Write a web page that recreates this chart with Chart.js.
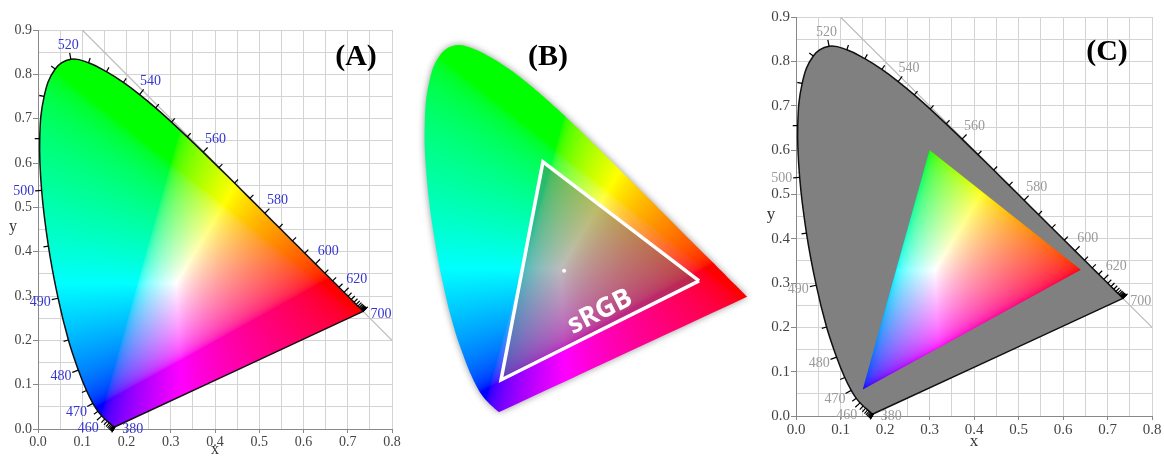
<!DOCTYPE html>
<html><head><meta charset="utf-8">
<script src="https://cdn.jsdelivr.net/npm/chart.js@4"></script>
<style>
html,body{margin:0;padding:0;background:#fff;}
body{width:1164px;height:459px;position:relative;overflow:hidden;}
canvas{position:absolute;left:0;top:0;}
</style></head>
<body>
<canvas id="cA" width="1164" height="459"></canvas>
<canvas id="cB" width="1164" height="459"></canvas>
<canvas id="cC" width="1164" height="459"></canvas>
<script>
// ---- DATA (CIE 1931 spectral locus) ----
const wavelengths = [380,385,390,395,400,405,410,415,420,425,430,435,440,445,450,455,460,465,470,475,480,485,490,495,500,505,510,515,520,525,530,535,540,545,550,555,560,565,570,575,580,585,590,595,600,605,610,615,620,625,630,635,640,645,650,655,660,665,670,675,680,685,690,695,700];
const locusX = [0.1741,0.1740,0.1738,0.1736,0.1733,0.1730,0.1726,0.1721,0.1714,0.1703,0.1689,0.1669,0.1644,0.1611,0.1566,0.1510,0.1440,0.1355,0.1241,0.1096,0.0913,0.0687,0.0454,0.0235,0.0082,0.0039,0.0139,0.0389,0.0743,0.1142,0.1547,0.1929,0.2296,0.2658,0.3016,0.3373,0.3731,0.4087,0.4441,0.4788,0.5125,0.5448,0.5752,0.6029,0.6270,0.6482,0.6658,0.6801,0.6915,0.7006,0.7079,0.7140,0.7190,0.7230,0.7260,0.7283,0.7300,0.7311,0.7320,0.7327,0.7334,0.7340,0.7344,0.7346,0.7347];
const locusY = [0.0050,0.0050,0.0049,0.0049,0.0048,0.0048,0.0048,0.0048,0.0051,0.0058,0.0069,0.0086,0.0109,0.0138,0.0177,0.0227,0.0297,0.0399,0.0578,0.0868,0.1327,0.2007,0.2950,0.4127,0.5384,0.6548,0.7502,0.8120,0.8338,0.8262,0.8059,0.7816,0.7543,0.7243,0.6923,0.6589,0.6245,0.5896,0.5547,0.5202,0.4866,0.4544,0.4242,0.3965,0.3725,0.3514,0.3340,0.3197,0.3083,0.2993,0.2920,0.2859,0.2809,0.2770,0.2740,0.2717,0.2700,0.2689,0.2680,0.2673,0.2666,0.2660,0.2656,0.2654,0.2653];
const labelWavelengths = [380,460,470,480,490,500,520,540,560,580,600,620,700];
const diagX = [0.1, 0.8];
const diagY = [0.9, 0.2];
const srgbX = [0.64, 0.30, 0.15];
const srgbY = [0.33, 0.60, 0.06];
const bTriX = [0.626, 0.272, 0.177];
const bTriY = [0.301, 0.570, 0.077];
const bWhiteX = [0.320];
const bWhiteY = [0.324];
const panelLetters = ['(A)', '(B)', '(C)'];

// ---- helpers ----
const locusPts = wavelengths.map((w,i)=>({x:locusX[i], y:locusY[i]}));
const locusClosed = locusPts.concat([locusPts[0]]);
const diagPts = diagX.map((x,i)=>({x, y:diagY[i]}));
const bTriPts = bTriX.map((x,i)=>({x, y:bTriY[i]})); bTriPts.push(bTriPts[0]);
const bWhitePts = bWhiteX.map((x,i)=>({x, y:bWhiteY[i]}));
const TENSION = 0.4;

function gam(c){ return c<=0.0031308 ? 12.92*c : 1.055*Math.pow(c,1/2.4)-0.055; }
function chroma(x,y){
  const yy = Math.max(y,1e-4);
  const X = x/yy, Z = (1-x-yy)/yy;
  let r = 3.2406*X - 1.5372 - 0.4986*Z;
  let g = -0.9689*X + 1.8758 + 0.0415*Z;
  let b = 0.0557*X - 0.2040 + 1.0570*Z;
  r=Math.max(r,0); g=Math.max(g,0); b=Math.max(b,0);
  const m = Math.max(r,g,b) || 1;
  return [255*gam(r/m), 255*gam(g/m), 255*gam(b/m)];
}
function makeField(chart){
  const ca = chart.chartArea, xs = chart.scales.x, ys = chart.scales.y;
  const L = Math.floor(ca.left), T = Math.floor(ca.top);
  const w = Math.ceil(ca.right)-L, h = Math.ceil(ca.bottom)-T;
  const c = document.createElement('canvas'); c.width=w; c.height=h;
  const g = c.getContext('2d'); const img = g.createImageData(w,h); const d = img.data;
  for(let j=0;j<h;j++){
    const y = ys.getValueForPixel(T+j+0.5);
    for(let i=0;i<w;i++){
      const x = xs.getValueForPixel(L+i+0.5);
      const col = chroma(x,y); const k=(j*w+i)*4;
      d[k]=col[0]; d[k+1]=col[1]; d[k+2]=col[2]; d[k+3]=255;
    }
  }
  g.putImageData(img,0,0);
  return {c, L, T};
}
function polyPath(ctx, chart, xs_, ys_){
  const xs = chart.scales.x, ys = chart.scales.y;
  ctx.beginPath();
  xs_.forEach((x,i)=>{ const px=xs.getPixelForValue(x), py=ys.getPixelForValue(ys_[i]); i?ctx.lineTo(px,py):ctx.moveTo(px,py); });
  ctx.closePath();
}
// smooth locus path taken from the library's own line element
function locusPath(ctx, chart, dsIndex){
  const el = chart.getDatasetMeta(dsIndex).dataset;
  if (el.updateControlPoints) el.updateControlPoints(chart.chartArea, 'x');
  ctx.beginPath(); el.path(ctx); ctx.closePath();
}
function drawLocusTicks(chart, labelColor){
  const ctx = chart.ctx, xs = chart.scales.x, ys = chart.scales.y;
  const p = wavelengths.map((w,i)=>[xs.getPixelForValue(locusX[i]), ys.getPixelForValue(locusY[i])]);
  const wp = [xs.getPixelForValue(0.33), ys.getPixelForValue(0.33)];
  const n = p.length;
  ctx.save();
  ctx.strokeStyle = '#000'; ctx.lineWidth = 1.2;
  ctx.font = '14px "Liberation Serif", "Times New Roman", serif';
  ctx.textAlign='center'; ctx.textBaseline='middle';
  for(let i=0;i<n;i++){
    let a=i, b=i;
    while(Math.hypot(p[b][0]-p[a][0], p[b][1]-p[a][1])<4 && (a>0 || b<n-1)){ if(a>0)a--; if(b<n-1)b++; }
    let tx=p[b][0]-p[a][0], ty=p[b][1]-p[a][1]; const tl=Math.hypot(tx,ty)||1; tx/=tl; ty/=tl;
    let nx=ty, ny=-tx;
    const ox=p[i][0]-wp[0], oy=p[i][1]-wp[1];
    if(nx*ox+ny*oy<0){ nx=-nx; ny=-ny; }
    const isLab = labelWavelengths.includes(wavelengths[i]);
    const len = isLab ? 6.5 : 5;
    ctx.beginPath(); ctx.moveTo(p[i][0],p[i][1]); ctx.lineTo(p[i][0]+nx*len, p[i][1]+ny*len); ctx.stroke();
    if(isLab){
      let dx=nx, dy=ny;
      if(wavelengths[i]===380){ dx=0.99; dy=0.12; }
      if(wavelengths[i]===700){ const l=Math.hypot(ox,oy); dx=ox/l; dy=oy/l; }
      const txt = String(wavelengths[i]);
      const hw = ctx.measureText(txt).width/2, hh=5;
      const off = 7 + hw*Math.abs(dx) + hh*Math.abs(dy);
      ctx.fillStyle = labelColor;
      ctx.fillText(txt, p[i][0]+dx*off, p[i][1]+dy*off);
    }
  }
  ctx.restore();
}
function drawLetter(chart, txt, cx, cy){
  const ctx = chart.ctx;
  ctx.save(); ctx.fillStyle='#000'; ctx.font='bold 30px "Liberation Serif", "Times New Roman", serif';
  ctx.textAlign='center'; ctx.textBaseline='middle'; ctx.fillText(txt, cx, cy); ctx.restore();
}
function drawYTitle(chart, size){
  const ctx = chart.ctx, ca = chart.chartArea, ys = chart.scales.y;
  ctx.save(); ctx.fillStyle='#333'; ctx.font=size+'px "Liberation Serif", "Times New Roman", serif';
  ctx.textAlign='center'; ctx.textBaseline='middle';
  ctx.fillText('y', ca.left-25, ys.getPixelForValue(0.455)); ctx.restore();
}
const isMajor = v => Math.abs(v*10 - Math.round(v*10)) < 1e-6;
function axisScales(xh, yw, fs, titlePad){
  const font = {family:'"Liberation Serif", "Times New Roman", serif', size:fs};
  return {
    x:{type:'linear', min:0, max:0.8,
       ticks:{stepSize:0.05, autoSkip:false, maxRotation:0, padding:1, color:'#444', font,
              callback:v=> isMajor(v) ? v.toFixed(1) : ''},
       grid:{color:'#d3d3d3', lineWidth:1, tickLength:4, tickColor:c=> isMajor(c.tick.value)?'#888':'rgba(0,0,0,0)'},
       border:{color:'#888', width:1},
       title:{display:true, text:'x', color:'#333', font:{family:font.family, size:fs+2}, padding:{top:0,bottom:titlePad}},
       afterFit:s=>{ s.height = xh; }},
    y:{type:'linear', min:0, max:0.9,
       ticks:{stepSize:0.05, autoSkip:false, padding:1, color:'#444', font,
              callback:v=> isMajor(v) ? v.toFixed(1) : ''},
       grid:{color:'#d3d3d3', lineWidth:1, tickLength:5, tickColor:c=> isMajor(c.tick.value)?'#888':'rgba(0,0,0,0)'},
       border:{color:'#888', width:1},
       afterFit:s=>{ s.width = yw; }}
  };
}
const common = {responsive:false, animation:false, events:[], plugins:{legend:{display:false}, tooltip:{enabled:false}}};

// ---- Panel A ----
new Chart(document.getElementById('cA'), {
  type:'scatter',
  data:{datasets:[
    {data:locusClosed, showLine:true, borderColor:'#111', borderWidth:1.5, pointRadius:0, fill:false, tension:TENSION},
    {data:diagPts, showLine:true, borderColor:'#bcbcbc', borderWidth:1.2, pointRadius:0, fill:false}
  ]},
  options:Object.assign({}, common, {
    layout:{padding:{left:0, right:772, top:30, bottom:0}},
    scales: axisScales(30, 38, 14, 0)
  }),
  plugins:[{
    id:'cieA',
    beforeDatasetsDraw(chart){
      const ctx=chart.ctx, f=makeField(chart);
      ctx.save(); locusPath(ctx, chart, 0); ctx.clip(); ctx.drawImage(f.c, f.L, f.T); ctx.restore();
    },
    afterDatasetsDraw(chart){ drawLocusTicks(chart, '#3535cf'); },
    afterDraw(chart){ drawLetter(chart, panelLetters[0], 356, 57); drawYTitle(chart, 16); }
  }]
});

// ---- Panel B ----
new Chart(document.getElementById('cB'), {
  type:'scatter',
  data:{datasets:[
    {data:bWhitePts, pointRadius:2, pointBackgroundColor:'#fff', pointBorderWidth:0},
    {data:bTriPts, showLine:true, borderColor:'#ffffff', borderWidth:3.5, borderJoinStyle:'miter', pointRadius:0, fill:false},
    {data:locusClosed, showLine:true, borderColor:'rgba(0,0,0,0)', borderWidth:0, pointRadius:0, fill:false, tension:TENSION}
  ]},
  options:Object.assign({}, common, {
    layout:{padding:{left:423, right:397, top:16, bottom:45}},
    scales:{x:{type:'linear', min:0, max:0.78, display:false}, y:{type:'linear', min:0, max:0.9, display:false}}
  }),
  plugins:[{
    id:'cieB',
    beforeDatasetsDraw(chart){
      const ctx=chart.ctx, f=makeField(chart);
      const layer=document.createElement('canvas'); layer.width=chart.width; layer.height=chart.height;
      const l=layer.getContext('2d');
      l.save(); locusPath(l, chart, 2); l.clip(); l.drawImage(f.c, f.L, f.T);
      polyPath(l, chart, bTriX, bTriY); l.fillStyle='rgba(95,95,95,0.42)'; l.fill();
      l.restore();
      ctx.save(); ctx.shadowColor='rgba(0,0,0,0.42)'; ctx.shadowBlur=7; ctx.drawImage(layer,0,0); ctx.restore();
    },
    afterDatasetsDraw(chart){
      const ctx=chart.ctx, xs=chart.scales.x, ys=chart.scales.y;
      const ax=xs.getPixelForValue(bTriX[2]), ay=ys.getPixelForValue(bTriY[2]);
      const bx=xs.getPixelForValue(bTriX[0]), by=ys.getPixelForValue(bTriY[0]);
      const L=Math.hypot(bx-ax,by-ay), ux=(bx-ax)/L, uy=(by-ay)/L;
      const t=0.537*L, off=16.5;
      const cx=ax+ux*t+uy*off, cy=ay+uy*t-ux*off;
      ctx.save(); ctx.translate(cx,cy); ctx.rotate(Math.atan2(uy,ux));
      ctx.fillStyle='#fff'; ctx.font='bold 27px "Open Sans", "DejaVu Sans", sans-serif';
      ctx.textAlign='center'; ctx.textBaseline='middle'; ctx.fillText('sRGB',0,0); ctx.restore();
    },
    afterDraw(chart){ drawLetter(chart, panelLetters[1], 548, 57); }
  }]
});

// ---- Panel C ----
new Chart(document.getElementById('cC'), {
  type:'scatter',
  data:{datasets:[
    {data:locusClosed, showLine:true, borderColor:'#111', borderWidth:1.5, pointRadius:0, fill:'shape', backgroundColor:'#808080', tension:TENSION},
    {data:diagPts, showLine:true, borderColor:'#bcbcbc', borderWidth:1.2, pointRadius:0, fill:false}
  ]},
  options:Object.assign({}, common, {
    layout:{padding:{left:758, right:12, top:17, bottom:0}},
    scales: axisScales(43, 38, 15, 7)
  }),
  plugins:[{
    id:'cieC',
    afterDatasetsDraw(chart){
      const ctx=chart.ctx, f=makeField(chart);
      ctx.save(); polyPath(ctx, chart, srgbX, srgbY); ctx.clip(); ctx.drawImage(f.c, f.L, f.T); ctx.restore();
      drawLocusTicks(chart, '#9a9a9a');
    },
    afterDraw(chart){ drawLetter(chart, panelLetters[2], 1107, 52); drawYTitle(chart, 17); }
  }]
});
</script>
</body></html>
